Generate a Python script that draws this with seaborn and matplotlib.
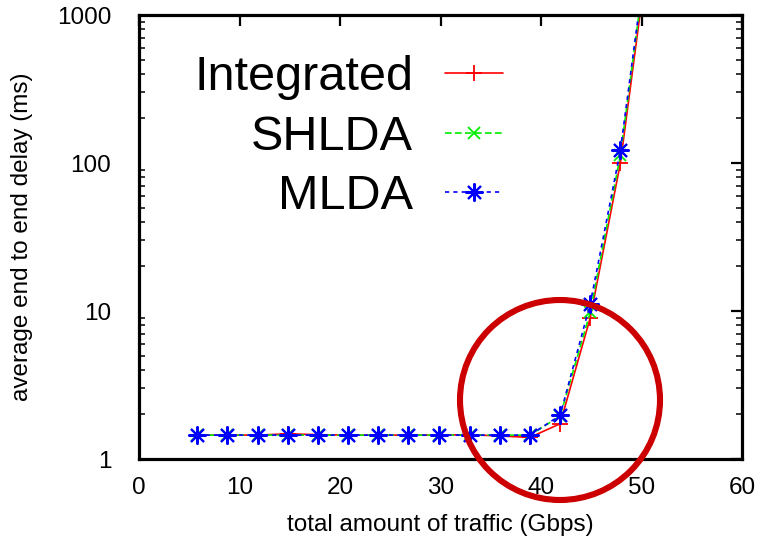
import numpy as np
import pandas as pd
import seaborn as sns
import matplotlib
matplotlib.use("Agg")
import matplotlib.pyplot as plt
from matplotlib.patches import Ellipse
from matplotlib.ticker import FixedLocator, FixedFormatter, LogLocator, NullFormatter

# ---- data ----
traffic = [5.8, 8.8, 11.8, 14.8, 17.8, 20.8, 23.8, 26.8, 29.9, 32.9, 35.9, 38.9, 41.9, 44.9, 47.9, 50.9]
integrated = [1.45, 1.45, 1.45, 1.48, 1.46, 1.45, 1.45, 1.45, 1.45, 1.46, 1.43, 1.40, 1.73, 9.0, 100, 3500]
shlda = [1.45, 1.45, 1.45, 1.45, 1.45, 1.45, 1.45, 1.45, 1.45, 1.45, 1.45, 1.45, 1.95, 9.8, 113, 4000]
mlda = [1.45, 1.45, 1.45, 1.45, 1.45, 1.45, 1.45, 1.45, 1.45, 1.45, 1.45, 1.45, 1.97, 11.2, 122, 4100]
series_names = ["Integrated", "SHLDA", "MLDA"]
x_ticks = [0, 10, 20, 30, 40, 50, 60]
y_ticks = [1, 10, 100, 1000]
y_tick_labels = ["1", "10", "100", "1000"]

sns.set_theme(style="white")
plt.rcParams["font.family"] = ["Liberation Sans", "DejaVu Sans"]

fig = plt.figure(figsize=(7.65, 5.38), dpi=100)
ax = fig.add_axes([139 / 765, 1 - 459 / 538, (742 - 139) / 765, (459 - 15) / 538])

styles = [
    dict(color="#ff0000", linestyle="-", marker="+", markersize=12, linewidth=1.2,
         markeredgewidth=1.3, markeredgecolor="#ff0000"),
    dict(color="#00ee00", linestyle=(0, (4, 2)), marker="x", markersize=9, linewidth=1.2,
         markeredgewidth=1.3, markeredgecolor="#00ee00"),
    dict(color="#0000ff", linestyle=(0, (2.5, 2.5)), marker=(8, 2, 0), markersize=13, linewidth=1.2,
         markeredgewidth=1.5, markeredgecolor="#0000ff"),
]
for name, vals, st in zip(series_names, [integrated, shlda, mlda], styles):
    df = pd.DataFrame({"x": traffic, "y": vals})
    sns.lineplot(data=df, x="x", y="y", ax=ax, label=name, **st)

ax.set_yscale("log")
ax.set_xlim(0, 60)
ax.set_ylim(1, 1000)
ax.xaxis.set_major_locator(FixedLocator(x_ticks))
ax.yaxis.set_major_locator(FixedLocator(y_ticks))
ax.yaxis.set_major_formatter(FixedFormatter(y_tick_labels))
ax.yaxis.set_minor_locator(LogLocator(base=10, subs=np.arange(2, 10)))
ax.yaxis.set_minor_formatter(NullFormatter())

for s in ax.spines.values():
    s.set_linewidth(2.3)
    s.set_color("black")
    s.set_visible(True)

ax.tick_params(axis="both", which="major", direction="in", top=True, right=True,
               length=8, width=1.6, labelsize=17.5, colors="black")
ax.tick_params(axis="y", which="major", pad=20)
ax.tick_params(axis="x", which="major", pad=13)
ax.tick_params(axis="y", which="minor", direction="in", left=True, right=True, length=4, width=1.3)

ax.set_xlabel("total amount of traffic (Gbps)", fontsize=17.5, labelpad=11, color="black")
ax.set_ylabel("average end to end delay (ms)", fontsize=17.5, labelpad=17, color="black")

leg = ax.legend(loc="upper right", bbox_to_anchor=(0.604, 0.91), frameon=False,
                markerfirst=False, fontsize=35, handlelength=1.2, handletextpad=0.65,
                labelspacing=0.30, borderpad=0, borderaxespad=0)
for t in leg.get_texts():
    t.set_ha("right")
    t.set_color("black")

circle = Ellipse((560 / 765, 1 - 400 / 538), 200 / 765, 200 / 538,
                 transform=fig.transFigure, fill=False, edgecolor="#cc0000", linewidth=4.4)
fig.patches.append(circle)

fig.savefig("out.png", dpi=100)
